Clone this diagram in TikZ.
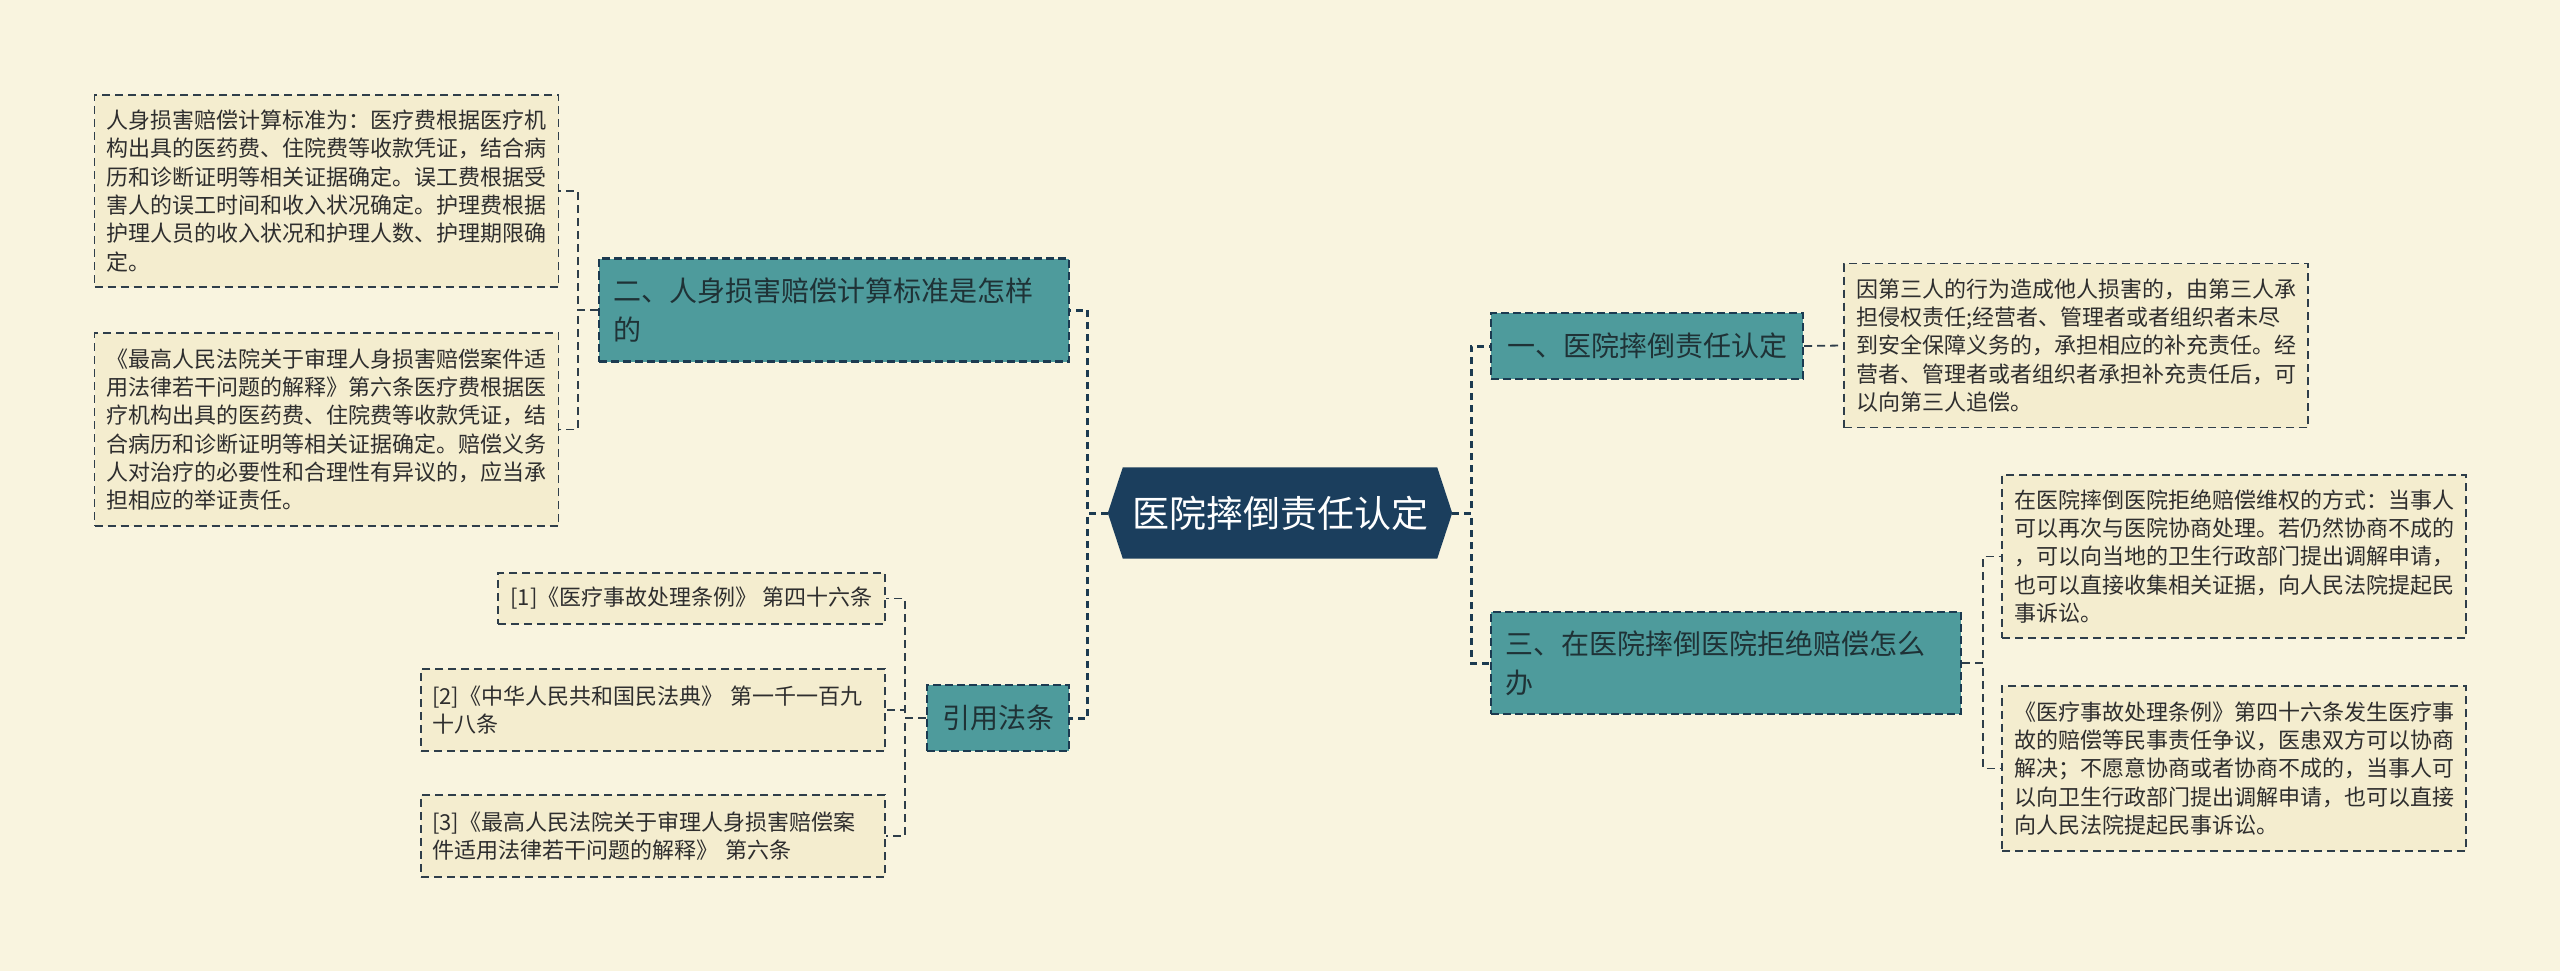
\documentclass[tikz,border=0pt]{standalone}
\usepackage{fontspec}
\setmainfont{Noto Sans CJK SC}
\usetikzlibrary{calc}
\definecolor{bgc}{HTML}{F9F4DF}
\definecolor{detailc}{HTML}{F4EDCF}
\definecolor{tealc}{HTML}{4E9B9C}
\definecolor{navyc}{HTML}{1B3E5D}
\definecolor{linec}{HTML}{1C3A50}
\definecolor{sublinec}{HTML}{2F3E4A}
\definecolor{txtc}{HTML}{2E2E2E}
\definecolor{tealtxt}{HTML}{1F3236}
\pgfdeclarelayer{bg}
\pgfsetlayers{bg,main}
\tikzset{
  detailbox/.style={draw=sublinec, line width=1.8pt, dash pattern=on 8pt off 5pt,
    fill=detailc, text=txtc, align=left, inner xsep=12pt, inner ysep=0pt,
    font=\fontsize{22}{28.3}\selectfont, anchor=center},
  refbox/.style={detailbox},
  topicbox/.style={draw=linec, line width=2.2pt, dash pattern=on 8pt off 4pt,
    fill=tealc, text=tealtxt, align=left, inner xsep=14pt, inner ysep=0pt,
    font=\fontsize{28}{39}\selectfont, anchor=center},
  mainlink/.style={draw=linec, line width=3pt, dash pattern=on 7pt off 5pt},
  sublink/.style={draw=sublinec, line width=1.8pt, dash pattern=on 8pt off 5pt},
}
\begin{document}
\begin{tikzpicture}[x=1pt,y=-1pt]
\useasboundingbox (0,0) rectangle (2560,971);

% center
\node[minimum width=344pt, minimum height=91pt, inner sep=0pt, text=white,
  font=\fontsize{37}{44}\selectfont] (c) at (1280,513) {医院摔倒责任认定};

% left branch
\node[topicbox, text width=442pt, minimum height=103pt] (n2) at (834,310)
  {二、人身损害赔偿计算标准是怎样\\的};
\node[detailbox, text width=440pt, minimum height=192pt] (d2a) at (326.5,191)
  {人身损害赔偿计算标准为：医疗费根据医疗机\\构出具的医药费、住院费等收款凭证，结合病\\历和诊断证明等相关证据确定。误工费根据受\\害人的误工时间和收入状况确定。护理费根据\\护理人员的收入状况和护理人数、护理期限确\\定。};
\node[detailbox, text width=440pt, minimum height=193pt] (d2b) at (326.5,429.5)
  {《最高人民法院关于审理人身损害赔偿案件适\\用法律若干问题的解释》第六条医疗费根据医\\疗机构出具的医药费、住院费等收款凭证，结\\合病历和诊断证明等相关证据确定。赔偿义务\\人对治疗的必要性和合理性有异议的，应当承\\担相应的举证责任。};

\node[topicbox, minimum width=142pt, minimum height=66pt, align=center, inner xsep=0pt] (ref) at (998,718) {引用法条};
\node[refbox, minimum width=387pt, minimum height=51pt, align=center, inner xsep=0pt] (r1) at (691.5,598.5)
  {[1]《医疗事故处理条例》~第四十六条};
\node[refbox, text width=442pt, inner xsep=11pt, minimum height=82pt] (r2) at (653,710)
  {[2]《中华人民共和国民法典》~第一千一百九\\十八条};
\node[refbox, text width=442pt, inner xsep=11pt, minimum height=82pt] (r3) at (653,836)
  {[3]《最高人民法院关于审理人身损害赔偿案\\件适用法律若干问题的解释》~第六条};

% right branch
\node[topicbox, minimum width=312pt, minimum height=66pt, align=center, inner xsep=0pt] (n1) at (1647,346)
  {一、医院摔倒责任认定};
\node[detailbox, text width=440pt, minimum height=164pt] (d1) at (2076,345.5)
  {因第三人的行为造成他人损害的，由第三人承\\担侵权责任;经营者、管理者或者组织者未尽\\到安全保障义务的，承担相应的补充责任。经\\营者、管理者或者组织者承担补充责任后，可\\以向第三人追偿。};
\node[topicbox, text width=442pt, minimum height=102pt] (n3) at (1726,663)
  {三、在医院摔倒医院拒绝赔偿怎么\\办};
\node[detailbox, text width=440pt, minimum height=163pt] (d3a) at (2234,556.5)
  {在医院摔倒医院拒绝赔偿维权的方式：当事人\\可以再次与医院协商处理。若仍然协商不成的\\，可以向当地的卫生行政部门提出调解申请，\\也可以直接收集相关证据，向人民法院提起民\\事诉讼。};
\node[detailbox, text width=440pt, minimum height=165pt] (d3b) at (2234,768.5)
  {《医疗事故处理条例》第四十六条发生医疗事\\故的赔偿等民事责任争议，医患双方可以协商\\解决；不愿意协商或者协商不成的，当事人可\\以向卫生行政部门提出调解申请，也可以直接\\向人民法院提起民事诉讼。};

% background and hexagon
\begin{pgfonlayer}{bg}
\fill[bgc] (0,0) rectangle (2560,971);
\fill[navyc] (c.west) -- ([xshift=15pt]c.north west) -- ([xshift=-15pt]c.north east)
  -- (c.east) -- ([xshift=-15pt]c.south east) -- ([xshift=15pt]c.south west) -- cycle;
\end{pgfonlayer}

% connectors
\draw[mainlink] (c.west) -- ++(-20,0) |- (n2.east);
\draw[mainlink] (c.west) -- ++(-20,0) |- (ref.east);
\draw[mainlink] (c.east) -- ++(19,0) |- (n1.west);
\draw[mainlink] (c.east) -- ++(19,0) |- (n3.west);

\draw[sublink] (n2.west) -- ++(-20,0) |- (d2a.east);
\draw[sublink] (n2.west) -- ++(-20,0) |- (d2b.east);
\draw[sublink] (ref.west) -- ++(-21,0) |- (r1.east);
\draw[sublink] (ref.west) -- ++(-21,0) |- (r2.east);
\draw[sublink] (ref.west) -- ++(-21,0) |- (r3.east);
\draw[sublink] (n1.east) -- (d1.west);
\draw[sublink] (n3.east) -- ++(21,0) |- (d3a.west);
\draw[sublink] (n3.east) -- ++(21,0) |- (d3b.west);
\end{tikzpicture}
\end{document}
